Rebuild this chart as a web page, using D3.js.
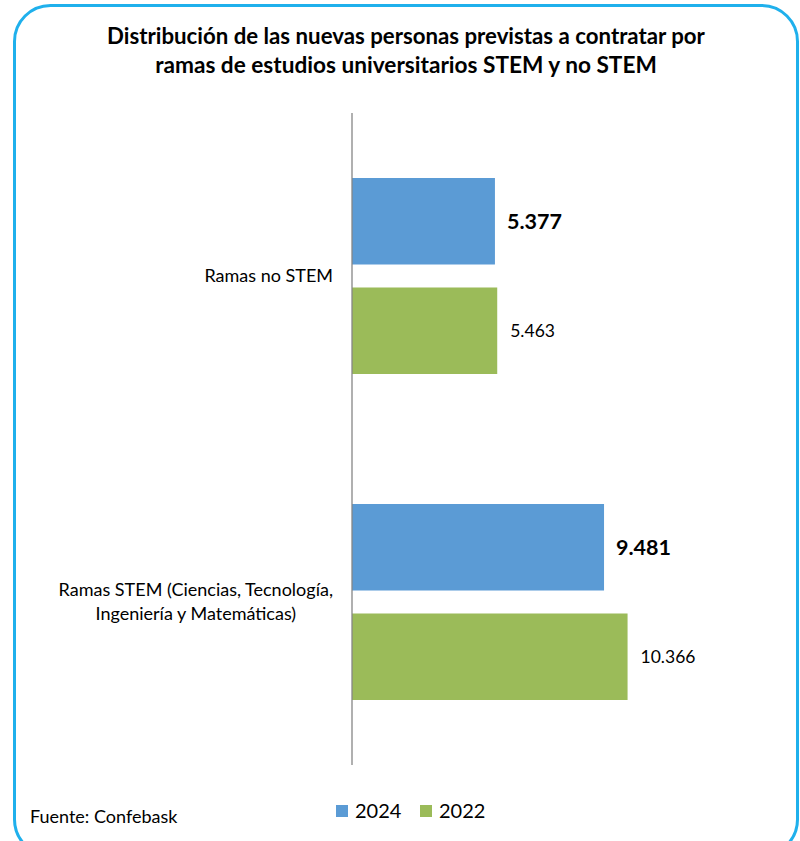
<!DOCTYPE html>
<html>
<head>
<meta charset="utf-8">
<script src="https://cdn.jsdelivr.net/npm/d3@7"></script>
<style>
  html, body { margin: 0; padding: 0; background: #fff; }
  svg { display: block; font-family: Lato, "Open Sans", sans-serif; }
</style>
</head>
<body>
<div id="chart"></div>
<script>
// values
const categories = ["Ramas no STEM", "Ramas STEM (Ciencias, Tecnología,|Ingeniería y Matemáticas)"];
const series = ["2024", "2022"];
const values2024 = [5377, 9481];
const values2022 = [5463, 10366];
const titleLines = ["Distribución de las nuevas personas previstas a contratar por",
                    "ramas de estudios universitarios STEM y no STEM"];

const W = 800, H = 841;
const M = {top: 113, right: 129, left: 352};
const COLORS = {"2024": "#5b9bd5", "2022": "#9bbb59"};
const fmt = v => d3.format(",")(v).replace(/,/g, ".");

const svg = d3.select("#chart").append("svg").attr("width", W).attr("height", H);

// rounded frame
svg.append("rect")
  .attr("x", 14.5).attr("y", 5.5).attr("width", 783).attr("height", 850)
  .attr("rx", 36).attr("ry", 36)
  .attr("fill", "none").attr("stroke", "#1fb0ec").attr("stroke-width", 3);

// title, squeezed to the width it has in the source
const titleW = [598, 502];
titleLines.forEach((t, i) => {
  const tx = svg.append("text")
    .attr("x", 406).attr("y", 44 + i * 29)
    .attr("text-anchor", "middle")
    .attr("font-weight", "bold").attr("font-size", 20)
    .attr("fill", "#000").text(t);
  const w = tx.node().getComputedTextLength();
  tx.attr("font-size", 20 * titleW[i] / w);
});

const g = svg.append("g").attr("transform", `translate(${M.left},${M.top})`);
const innerW = W - M.left - M.right;
const plotH = 652;

const x = d3.scaleLinear().domain([0, 12000]).range([0, innerW]);
const y = d3.scaleBand().domain(categories).range([0, plotH]);
const inner = d3.scaleBand().domain(series).range([65, y.bandwidth() - 65]).paddingInner(0.21);

const rows = categories.map((c, i) => ({cat: c, vals: [
  {key: "2024", value: values2024[i]},
  {key: "2022", value: values2022[i]}
]}));

const grp = g.selectAll("g.cat").data(rows).join("g")
  .attr("class", "cat")
  .attr("transform", d => `translate(0,${y(d.cat)})`);

grp.selectAll("rect").data(d => d.vals).join("rect")
  .attr("x", 0)
  .attr("y", d => inner(d.key))
  .attr("width", d => x(d.value))
  .attr("height", inner.bandwidth())
  .attr("fill", d => COLORS[d.key]);

grp.selectAll("text.val").data(d => d.vals).join("text")
  .attr("class", "val")
  .attr("x", d => x(d.value) + (d.key === "2024" ? 12 : 13))
  .attr("y", d => inner(d.key) + inner.bandwidth() / 2)
  .attr("dy", "0.35em")
  .attr("font-size", d => d.key === "2024" ? 21.5 : 17.5)
  .attr("font-weight", d => d.key === "2024" ? "bold" : "normal")
  .attr("fill", "#000")
  .text(d => fmt(d.value));

// vertical axis line
g.append("line")
  .attr("x1", 0).attr("x2", 0).attr("y1", 0).attr("y2", plotH)
  .attr("stroke", "#868686").attr("stroke-width", 1.3);

// category labels: lines centred inside a right-aligned block
rows.forEach(d => {
  const lines = d.cat.split("|");
  const cy = y(d.cat) + y.bandwidth() / 2;
  const lab = g.append("g");
  const ts = lines.map((l, i) => lab.append("text")
    .attr("y", cy + (i - (lines.length - 1) / 2) * 24)
    .attr("dy", "0.35em")
    .attr("text-anchor", "middle")
    .attr("font-size", 18).attr("fill", "#000").text(l));
  const maxW = d3.max(ts, t => t.node().getComputedTextLength());
  ts.forEach(t => t.attr("x", -19 - maxW / 2));
});

// legend
const leg = svg.append("g").attr("transform", "translate(336,805)");
series.forEach((s, i) => {
  const it = leg.append("g").attr("transform", `translate(${i * 84},0)`);
  it.append("rect").attr("width", 12).attr("height", 12).attr("fill", COLORS[s]);
  it.append("text").attr("x", 19).attr("y", 6).attr("dy", "0.35em")
    .attr("font-size", 20).attr("fill", "#000").text(s);
});

svg.append("text")
  .attr("x", 30).attr("y", 823)
  .attr("font-size", 18).attr("fill", "#000")
  .text("Fuente: Confebask");
</script>
</body>
</html>
